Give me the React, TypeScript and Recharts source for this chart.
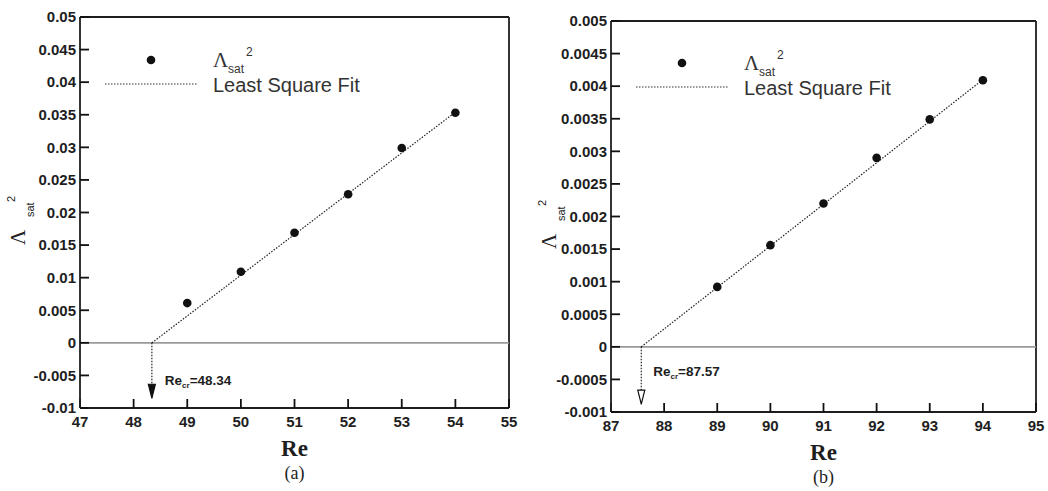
import React from 'react';
import {
  ComposedChart,
  XAxis,
  YAxis,
  Scatter,
  Line,
  ReferenceLine,
  Legend,
} from 'recharts';

// panel (a)
const reA = [49, 50, 51, 52, 53, 54];
const lambdaA = [0.0061, 0.0109, 0.0169, 0.0228, 0.0299, 0.0353];
const fitReA = [48.34, 54];
const fitLambdaA = [0, 0.0354];
const recrA = 48.34;
const arrowEndA = -0.0085;
const xTicksA = [47, 48, 49, 50, 51, 52, 53, 54, 55];
const yTicksA = [-0.01, -0.005, 0, 0.005, 0.01, 0.015, 0.02, 0.025, 0.03, 0.035, 0.04, 0.045, 0.05];

// panel (b)
const reB = [89, 90, 91, 92, 93, 94];
const lambdaB = [0.00092, 0.00156, 0.0022, 0.0029, 0.00349, 0.00409];
const fitReB = [87.57, 94];
const fitLambdaB = [0, 0.0041];
const recrB = 87.57;
const arrowEndB = -0.00088;
const xTicksB = [87, 88, 89, 90, 91, 92, 93, 94, 95];
const yTicksB = [-0.001, -0.0005, 0, 0.0005, 0.001, 0.0015, 0.002, 0.0025, 0.003, 0.0035, 0.004, 0.0045, 0.005];

const INK = '#1e1e1e';
const SANS = '"Liberation Sans", Arial, sans-serif';
const SERIF = '"Liberation Serif", "Times New Roman", serif';

const withMinors = (majors: number[], n: number) => {
  const out: number[] = [];
  for (let i = 0; i < majors.length - 1; i++) {
    const step = (majors[i + 1] - majors[i]) / n;
    for (let k = 0; k < n; k++) out.push(majors[i] + k * step);
  }
  out.push(majors[majors.length - 1]);
  return out;
};

const isMajor = (v: number, majors: number[]) => {
  const tol = (majors[majors.length - 1] - majors[0]) * 1e-6;
  return majors.some((m) => Math.abs(m - v) < tol);
};

const fmt = (v: number) => String(Number(v.toPrecision(6)));

const tickFmt = (majors: number[]) => (v: number) => (isMajor(v, majors) ? fmt(v) : '');

type PanelProps = {
  re: number[];
  lambda: number[];
  fitRe: number[];
  fitLambda: number[];
  recr: number;
  arrowEnd: number;
  xTicks: number[];
  yTicks: number[];
  width: number;
  margin: { top: number; right: number; bottom: number; left: number };
  caption: string;
  filledArrow: boolean;
  labelDx: number;
  labelDy: number;
  legendTop: number;
};

const YTitle = (props: any) => {
  const vb = props.viewBox;
  const px = vb.x + vb.width - 55;
  const py = vb.y + 228;
  return (
    <text transform={`rotate(-90 ${px} ${py})`} fill="#222">
      <tspan x={px} y={py} fontFamily={SERIF} fontSize={21}>Λ</tspan>
      <tspan x={px + 28} y={py + 9} fontFamily={SANS} fontSize={11}>sat</tspan>
      <tspan x={px + 43} y={py - 10} fontFamily={SANS} fontSize={11}>2</tspan>
    </text>
  );
};

const XTitle = (props: any) => {
  const vb = props.viewBox;
  const cx = vb.x + vb.width / 2;
  return (
    <g>
      <text x={cx} y={vb.y + 48} textAnchor="middle" fontFamily={SERIF} fontWeight="bold" fontSize={23} fill={INK}>Re</text>
      <text x={cx} y={vb.y + 71} textAnchor="middle" fontFamily={SERIF} fontSize={18} fill={INK}>({props.caption})</text>
    </g>
  );
};

const LegendBox = () => (
  <svg width={320} height={60} style={{ display: 'block', overflow: 'visible' }}>
    <circle cx={51} cy={18} r={4.3} fill="#111" />
    <text fill="#333">
      <tspan x={113} y={25} fontFamily={SERIF} fontSize={21}>Λ</tspan>
      <tspan x={128} y={31} fontFamily={SANS} fontSize={12}>sat</tspan>
      <tspan x={146} y={14} fontFamily={SANS} fontSize={12}>2</tspan>
    </text>
    <line x1={5} x2={97} y1={42} y2={42} stroke="#333" strokeWidth={1.2} strokeDasharray="1.5 1.5" />
    <text x={113} y={50} fontFamily={SANS} fontSize={20} fill="#333">Least Square Fit</text>
  </svg>
);

const arrowDot = (filled: boolean, text: string, lx: number, ly: number) => (p: any) => {
  if (p.index !== 1) return <g key={`a${p.index}`} />;
  const { cx, cy } = p;
  return (
    <g key={`a${p.index}`}>
      <path d={`M${cx - 3.5},${cy - 14} L${cx + 3.5},${cy - 14} L${cx},${cy} Z`} fill={filled ? '#111' : '#fff'} stroke="#111" strokeWidth={1.2} />
      <text x={cx + lx} y={cy + ly} fontFamily={SANS} fontWeight="bold" fontSize={13.5} fill={INK}>
        <tspan>Re</tspan>
        <tspan fontSize={8} dy={3}>cr</tspan>
        <tspan dy={-3}>{`=${text}`}</tspan>
      </text>
    </g>
  );
};

const tickText = { fontFamily: SANS, fontWeight: 'bold', fontSize: 15, fill: INK } as const;

const Panel = (p: PanelProps) => {
  const points = p.re.map((x, i) => ({ x, y: p.lambda[i] }));
  const fit = p.fitRe.map((x, i) => ({ x, y: p.fitLambda[i] }));
  const arrow = [
    { x: p.recr, y: 0 },
    { x: p.recr, y: p.arrowEnd },
  ];
  const xDomain = [p.xTicks[0], p.xTicks[p.xTicks.length - 1]];
  const yDomain = [p.yTicks[0], p.yTicks[p.yTicks.length - 1]];
  const frame = { stroke: INK, strokeWidth: 1.8 };
  const major = { stroke: '#111', strokeWidth: 1.8 };
  const minor = { stroke: '#111', strokeWidth: 1.1 };
  return (
    <ComposedChart width={p.width} height={491} margin={p.margin}>
      {/* minor ticks: zero-size axes hugging the plot edge, ticks pointing inward */}
      <XAxis
        xAxisId="minor"
        type="number"
        dataKey="x"
        domain={xDomain}
        ticks={withMinors(p.xTicks, 5)}
        interval={0}
        allowDataOverflow
        axisLine={false}
        tickLine={minor}
        tickSize={-5}
        tick={false}
        height={1}
      />
      <YAxis
        yAxisId="minor"
        type="number"
        dataKey="y"
        domain={yDomain}
        ticks={withMinors(p.yTicks, 5)}
        interval={0}
        allowDataOverflow
        axisLine={false}
        tickLine={minor}
        tickSize={-5}
        tick={false}
        width={1}
      />
      <XAxis
        type="number"
        dataKey="x"
        domain={xDomain}
        ticks={p.xTicks}
        interval={0}
        allowDataOverflow
        axisLine={frame}
        tickLine={major}
        tickSize={-9}
        tickMargin={17}
        tickFormatter={tickFmt(p.xTicks)}
        tick={tickText}
        height={59}
        label={<XTitle caption={p.caption} />}
      />
      <YAxis
        type="number"
        dataKey="y"
        domain={yDomain}
        ticks={p.yTicks}
        interval={0}
        allowDataOverflow
        axisLine={frame}
        tickLine={major}
        tickSize={-9}
        tickMargin={13}
        tickFormatter={tickFmt(p.yTicks)}
        tick={tickText}
        width={59}
        label={<YTitle />}
      />
      <ReferenceLine y={yDomain[1]} {...frame} />
      <ReferenceLine x={xDomain[1]} {...frame} />
      <ReferenceLine y={0} stroke="#9a9a9a" strokeWidth={1.6} />
      <Line
        data={fit}
        dataKey="y"
        type="linear"
        stroke="#222"
        strokeWidth={1.2}
        strokeDasharray="1.5 1.5"
        dot={false}
        activeDot={false}
        isAnimationActive={false}
      />
      <Line
        data={arrow}
        dataKey="y"
        type="linear"
        stroke="#222"
        strokeWidth={1.2}
        strokeDasharray="1.5 1.5"
        dot={arrowDot(p.filledArrow, fmt(p.recr), p.labelDx, p.labelDy)}
        activeDot={false}
        isAnimationActive={false}
      />
      <Scatter
        data={points}
        dataKey="y"
        fill="#111"
        shape={(s: any) => <circle cx={s.cx} cy={s.cy} r={4.3} fill="#111" />}
        isAnimationActive={false}
      />
      <Legend
        layout="vertical"
        align="center"
        verticalAlign="middle"
        content={() => <LegendBox />}
        wrapperStyle={{ left: 100, top: p.legendTop, width: 320, height: 60 }}
      />
    </ComposedChart>
  );
};

export default function App() {
  return (
    <div style={{ position: 'absolute', left: 0, top: 0, width: 1048, height: 491, background: '#fff' }}>
      <div style={{ position: 'absolute', left: 0, top: 0 }}>
        <Panel
          re={reA}
          lambda={lambdaA}
          fitRe={fitReA}
          fitLambda={fitLambdaA}
          recr={recrA}
          arrowEnd={arrowEndA}
          xTicks={xTicksA}
          yTicks={yTicksA}
          width={520}
          margin={{ top: 17, right: 11, bottom: 23, left: 20 }}
          caption="a"
          filledArrow
          labelDx={13}
          labelDy={-13}
          legendTop={42}
        />
      </div>
      <div style={{ position: 'absolute', left: 531, top: 0 }}>
        <Panel
          re={reB}
          lambda={lambdaB}
          fitRe={fitReB}
          fitLambda={fitLambdaB}
          recr={recrB}
          arrowEnd={arrowEndB}
          xTicks={xTicksB}
          yTicks={yTicksB}
          width={517}
          margin={{ top: 21, right: 12, bottom: 19, left: 20 }}
          caption="b"
          filledArrow={false}
          labelDx={12}
          labelDy={-28}
          legendTop={45}
        />
      </div>
    </div>
  );
}
